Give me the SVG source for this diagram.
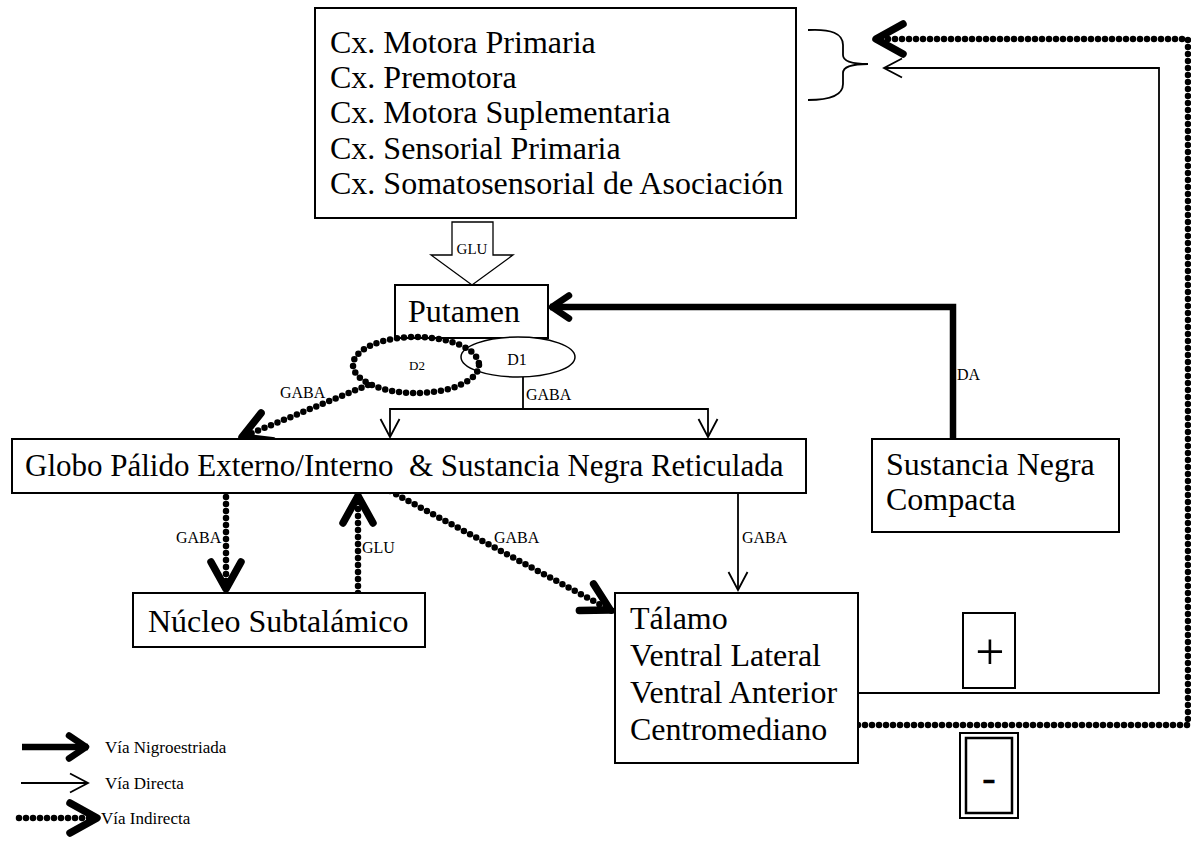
<svg xmlns="http://www.w3.org/2000/svg" width="1191" height="845" viewBox="0 0 1191 845">
  <style>
    .box { fill: #fff; stroke: #000; stroke-width: 2; }
    .t { font-family: "Liberation Serif", "Times New Roman", serif; font-size: 32px; fill: #000; }
    .g { font-family: "Liberation Serif", "Times New Roman", serif; font-size: 31px; fill: #000; }
    .lbl { font-family: "Liberation Serif", "Times New Roman", serif; font-size: 16px; fill: #000; }
    .sm { font-family: "Liberation Serif", "Times New Roman", serif; font-size: 15px; fill: #000; }
    .xs { font-family: "Liberation Serif", "Times New Roman", serif; font-size: 13px; fill: #000; }
    .leg { font-family: "Liberation Serif", "Times New Roman", serif; font-size: 17px; fill: #000; }
    .plus { font-family: "Liberation Serif", "Times New Roman", serif; font-size: 52px; fill: #000; }
    .minus { font-family: "Liberation Serif", "Times New Roman", serif; font-size: 40px; fill: #000; stroke: #000; stroke-width: 0.6; }
    .thin { fill: none; stroke: #000; stroke-width: 1.8; }
    .thick { fill: none; stroke: #000; stroke-width: 6.5; }
    .dot { fill: none; stroke: #000; stroke-width: 6.5; stroke-linecap: round; stroke-dasharray: 0 7; }
  </style>
  <defs>
    <!-- open V heads: thin (direct), medium (nigrostriatal), large (indirect) -->
    <marker id="vThin" markerUnits="userSpaceOnUse" viewBox="-22 -12 26 24" refX="0" refY="0" markerWidth="26" markerHeight="24" orient="auto" overflow="visible">
      <path d="M-18,-9.5 L0,0 L-18,9.5" fill="none" stroke="#000" stroke-width="1.8" stroke-dasharray="none"/>
    </marker>
    <marker id="vNig" markerUnits="userSpaceOnUse" viewBox="-26 -16 30 32" refX="0" refY="0" markerWidth="30" markerHeight="32" orient="auto" overflow="visible">
      <path d="M-19,-11.5 L-2,0 L-19,11.5" fill="none" stroke="#000" stroke-width="6.5" stroke-linecap="round" stroke-linejoin="round" stroke-dasharray="none"/>
    </marker>
    <marker id="vInd" markerUnits="userSpaceOnUse" viewBox="-36 -20 40 40" refX="0" refY="0" markerWidth="40" markerHeight="40" orient="auto" overflow="visible">
      <path d="M-29,-15 L-2,0 L-29,15" fill="none" stroke="#000" stroke-width="7.5" stroke-linecap="round" stroke-linejoin="round" stroke-dasharray="none"/>
    </marker>
  </defs>
  <rect width="1191" height="845" fill="#fff"/>

  <!-- connectors -->
  <g id="connectors">
    <!-- cortex to putamen (glutamate block arrow) -->
    <polygon points="452,222 493,222 493,255 513,255 472,285 431,255 452,255" fill="#fff" stroke="#000" stroke-width="1.3"/>
    <text class="sm" x="472" y="254" text-anchor="middle">GLU</text>

    <!-- nigrostriatal: SN compacta to putamen -->
    <polyline class="thick" points="953,439 953,307 550,307" marker-end="url(#vNig)"/>
    <text class="lbl" x="957" y="380">DA</text>

    <!-- direct pathway from D1 -->
    <polyline class="thin" points="523,377 523,409"/>
    <polyline class="thin" points="523,409 390,409 390,437" marker-end="url(#vThin)"/>
    <polyline class="thin" points="523,409 708,409 708,437" marker-end="url(#vThin)"/>
    <text class="lbl" x="526" y="400">GABA</text>

    <!-- indirect pathway from D2 -->
    <path class="dot" d="M368,385 L240,438" marker-end="url(#vInd)"/>
    <text class="lbl" x="280" y="398">GABA</text>

    <!-- pallidum / subthalamic loop -->
    <path class="dot" d="M226,497 L226,591" marker-end="url(#vInd)"/>
    <text class="lbl" x="176" y="543">GABA</text>
    <path class="dot" d="M358,593 L358,494" marker-end="url(#vInd)"/>
    <text class="lbl" x="362" y="553">GLU</text>

    <!-- pallidum to thalamus -->
    <path class="dot" d="M390,491 L612,611" marker-end="url(#vInd)"/>
    <text class="lbl" x="494" y="543">GABA</text>
    <polyline class="thin" points="738,493 738,590" marker-end="url(#vThin)"/>
    <text class="lbl" x="742" y="543">GABA</text>

    <!-- thalamus back to cortex -->
    <polyline class="thin" points="858,693 1159,693 1159,68 884,68" marker-end="url(#vThin)"/>
    <path class="dot" d="M858,725 L1188,725 L1188,39 L874,39" marker-end="url(#vInd)"/>

    <!-- brace grouping the motor areas -->
    <path d="M808,30 Q843,28 843,45 L843,55 Q843,64 868,64 Q843,64 843,73 L843,84 Q843,100 808,100" fill="none" stroke="#000" stroke-width="1.8"/>
  </g>

  <!-- nodes -->
  <g id="cortex">
    <rect class="box" x="315" y="8" width="481" height="210"/>
    <text class="t" x="330" y="53">Cx. Motora Primaria</text>
    <text class="t" x="330" y="88">Cx. Premotora</text>
    <text class="t" x="330" y="123">Cx. Motora Suplementaria</text>
    <text class="t" x="330" y="159">Cx. Sensorial Primaria</text>
    <text class="t" x="330" y="194">Cx. Somatosensorial de Asociación</text>
  </g>

  <g id="putamen">
    <rect class="box" x="395" y="285" width="153" height="53"/>
    <text class="t" x="408" y="322">Putamen</text>
  </g>

  <g id="d1">
    <ellipse cx="518" cy="357" rx="57" ry="20" fill="#fff" stroke="#000" stroke-width="1.5"/>
    <text class="lbl" x="517" y="365" text-anchor="middle">D1</text>
  </g>

  <g id="d2">
    <ellipse class="dot" cx="416" cy="365" rx="63" ry="28"/>
    <text class="xs" x="417" y="370" text-anchor="middle">D2</text>
  </g>

  <g id="globo">
    <rect class="box" x="12" y="439" width="794" height="54"/>
    <text class="g" x="25" y="476" xml:space="preserve">Globo Pálido Externo/Interno  &amp; Sustancia Negra Reticulada</text>
  </g>

  <g id="snc">
    <rect class="box" x="872" y="439" width="247" height="93"/>
    <text class="t" x="886" y="475">Sustancia Negra</text>
    <text class="t" x="886" y="510">Compacta</text>
  </g>

  <g id="nucleo">
    <rect class="box" x="133" y="593" width="292" height="54"/>
    <text class="t" x="148" y="632">Núcleo Subtalámico</text>
  </g>

  <g id="talamo">
    <rect class="box" x="615" y="593" width="243" height="170"/>
    <text class="t" x="630" y="629">Tálamo</text>
    <text class="t" x="630" y="666">Ventral Lateral</text>
    <text class="t" x="630" y="703">Ventral Anterior</text>
    <text class="t" x="630" y="740">Centromediano</text>
  </g>

  <g id="excitatory">
    <rect class="box" x="963" y="613" width="52" height="75"/>
    <text class="plus" x="990" y="669" text-anchor="middle">+</text>
  </g>

  <g id="inhibitory">
    <rect class="box" x="960" y="733" width="58" height="85"/>
    <rect x="966" y="738" width="46" height="75" fill="none" stroke="#000" stroke-width="2.5"/>
    <text class="minus" x="989" y="791" text-anchor="middle">-</text>
  </g>

  <!-- legend -->
  <g id="legend">
    <line class="thick" x1="22" y1="747" x2="88" y2="747" marker-end="url(#vNig)"/>
    <text class="leg" x="105" y="753">Vía Nigroestriada</text>
    <line class="thin" x1="21" y1="783" x2="88" y2="783" marker-end="url(#vThin)"/>
    <text class="leg" x="105" y="789">Vía Directa</text>
    <path class="dot" d="M19,818 L99,818" marker-end="url(#vInd)"/>
    <text class="leg" x="101" y="824">Vía Indirecta</text>
  </g>
</svg>
